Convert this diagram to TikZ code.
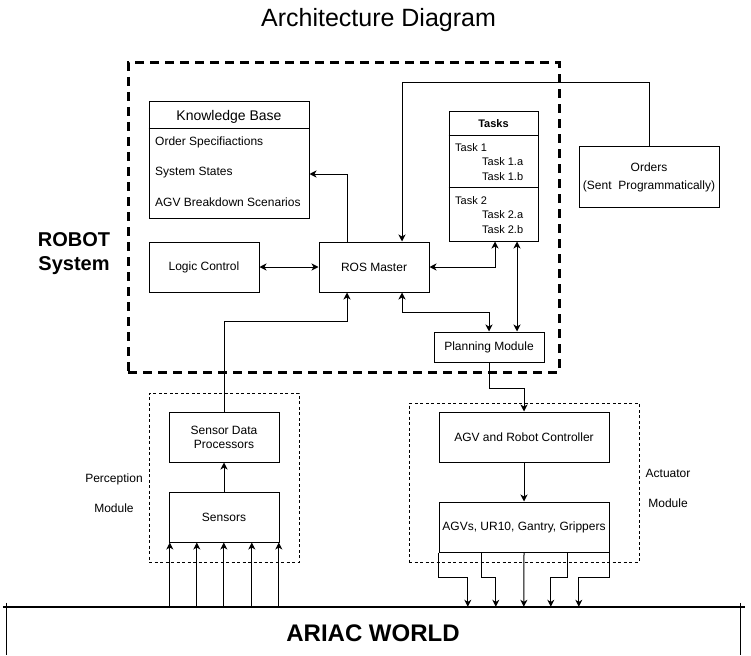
\documentclass[tikz,border=0pt]{standalone}
\usepackage{fontspec}
\setmainfont{Liberation Sans}
\usetikzlibrary{arrows.meta,calc}
\tikzset{
  ah/.tip={Stealth[length=7pt,width=7pt,inset=2pt]},
  box/.style={draw, line width=1pt, inner sep=0pt, align=center, font=\fontsize{12}{14}\selectfont},
  lbl/.style={inner sep=0pt, align=center, font=\fontsize{12}{14}\selectfont},
  tasktxt/.style={inner sep=0pt, anchor=west, font=\fontsize{11}{13}\selectfont},
  conn/.style={line width=1pt, -ah},
  conn2/.style={line width=1pt, ah-ah},
  bigdash/.style={draw, line width=3pt, dash pattern=on 9pt off 6pt, inner sep=0pt},
  smalldash/.style={draw, line width=0.8pt, dash pattern=on 3pt off 2.5pt, inner sep=0pt},
}
\begin{document}
\begin{tikzpicture}[x=1pt,y=-1pt]
\useasboundingbox (0,0) rectangle (751,655);

% title
\node[inner sep=0pt, font=\fontsize{25}{30}\selectfont] (title) at (378.5,20) {Architecture Diagram};

% robot system dashed frame
\node[bigdash, minimum width=431pt, minimum height=309pt] (robot) at (343.5,217.5) {};
\node[inner sep=0pt, align=center, font=\bfseries\fontsize{20}{24}\selectfont] (robotlbl) at (74,254) {ROBOT\\System};

% knowledge base
\node[box, minimum width=160pt, minimum height=116pt] (kb) at (229,160) {};
\draw[line width=1pt] ([yshift=-27pt]kb.north west) -- ([yshift=-27pt]kb.north east);
\node[inner sep=0pt, font=\fontsize{14}{16}\selectfont] (kbtitle) at (229,116.5) {Knowledge Base};
\node[lbl, anchor=west] (kb1) at (155,142.5) {Order Specifiactions};
\node[lbl, anchor=west] (kb2) at (155,172.5) {System States};
\node[lbl, anchor=west] (kb3) at (155,202.5) {AGV Breakdown Scenarios};

% tasks
\node[box, minimum width=89pt, minimum height=129pt] (tasks) at (493.5,176.5) {};
\draw[line width=0.8pt] ([yshift=-24pt]tasks.north west) -- ([yshift=-24pt]tasks.north east);
\draw[line width=0.8pt] ([yshift=-76pt]tasks.north west) -- ([yshift=-76pt]tasks.north east);
\node[inner sep=0pt, font=\bfseries\fontsize{11}{13}\selectfont] (taskstitle) at (493.5,124) {Tasks};
\node[tasktxt] (t1) at (455,147.5) {Task 1};
\node[tasktxt] (t1a) at (482,162) {Task 1.a};
\node[tasktxt] (t1b) at (482,177) {Task 1.b};
\node[tasktxt] (t2) at (455,200.5) {Task 2};
\node[tasktxt] (t2a) at (482,215) {Task 2.a};
\node[tasktxt] (t2b) at (482,230) {Task 2.b};

% main boxes
\node[box, minimum width=110pt, minimum height=50pt] (logic) at (204,267) {Logic Control};
\node[box, minimum width=110pt, minimum height=50pt] (ros) at (374,267) {ROS Master};
\node[box, minimum width=110pt, minimum height=30pt] (planning) at (489,347) {Planning Module};
\node[box, minimum width=140pt, minimum height=60pt, font=\fontsize{12}{18}\selectfont] (orders) at (649,177) {Orders\\(Sent~~Programmatically)};

% perception module
\node[smalldash, minimum width=150pt, minimum height=169pt] (perc) at (224,477.5) {};
\node[lbl, font=\fontsize{12}{30}\selectfont] (perclbl) at (114,493.5) {Perception\\Module};
\node[box, minimum width=110pt, minimum height=50pt] (sdp) at (224,437) {Sensor Data\\Processors};
\node[box, minimum width=110pt, minimum height=50pt] (sensors) at (224,517) {Sensors};

% actuator module
\node[smalldash, minimum width=230pt, minimum height=159pt] (act) at (524,482.5) {};
\node[lbl, font=\fontsize{12}{30}\selectfont] (actlbl) at (668,488.5) {Actuator\\Module};
\node[box, minimum width=170pt, minimum height=50pt] (agvc) at (524,437) {AGV and Robot Controller};
\node[box, minimum width=170pt, minimum height=50pt] (agvs) at (524,527) {AGVs, UR10, Gantry, Grippers};

% ARIAC world
\node[inner sep=0pt, minimum width=733pt, minimum height=48pt] (world) at (373.5,631) {};
\node[inner sep=0pt, font=\bfseries\fontsize{24}{28}\selectfont] (worldlbl) at (373,633) {ARIAC WORLD};
\draw[line width=2pt] ([xshift=-4pt]world.north west) -- ([xshift=5pt]world.north east);
\draw[line width=1pt] ([yshift=4pt]world.north west) -- (world.south west);
\draw[line width=1pt] ([yshift=4pt]world.north east) -- (world.south east);

% connectors inside robot system
\draw[conn] (orders.north) -- ++(0,-64) -| ([xshift=28pt]ros.north);
\draw[conn] ([xshift=-27pt]ros.north) |- ([yshift=-14pt]kb.east);
\draw[conn2] (logic.east) -- (ros.west);
\draw[conn2] (ros.east) -| ([xshift=1.5pt]tasks.south);
\draw[conn2] ([xshift=23.5pt]tasks.south) -- ([xshift=23.5pt]tasks.south |- planning.north);
\draw[conn2] ([xshift=28pt]ros.south) -- ++(0,20) -| (planning.north);
\draw[conn] (sdp.north) -- ++(0,-90) -| ([xshift=-27pt]ros.south);
\draw[conn] (planning.south) -- ++(0,26) -| (agvc.north);

% perception
\draw[conn] (sensors.north) -- (sdp.south);
\foreach \i/\dx in {1/163,2/190,3/217,4/245,5/272}{
  \coordinate (s\i) at ([xshift=\dx pt]world.north west);
  \draw[conn] (s\i) -- (s\i |- sensors.south);
}

% actuator
\draw[conn] (agvc.south) -- (agvs.north);
\coordinate (w1) at ([xshift=461pt]world.north west);
\coordinate (w2) at ([xshift=489pt]world.north west);
\coordinate (w3) at ([xshift=517pt]world.north west);
\coordinate (w4) at ([xshift=544pt]world.north west);
\coordinate (w5) at ([xshift=572pt]world.north west);
\draw[conn] (agvs.south west) -- ++(0,25) -| (w1);
\draw[conn] ([xshift=43pt]agvs.south west) -- ++(0,25) -| (w2);
\draw[conn] (agvs.south) -- (w3);
\draw[conn] ([xshift=-42pt]agvs.south east) -- ++(0,25) -| (w4);
\draw[conn] (agvs.south east) -- ++(0,25) -| (w5);
\end{tikzpicture}
\end{document}
